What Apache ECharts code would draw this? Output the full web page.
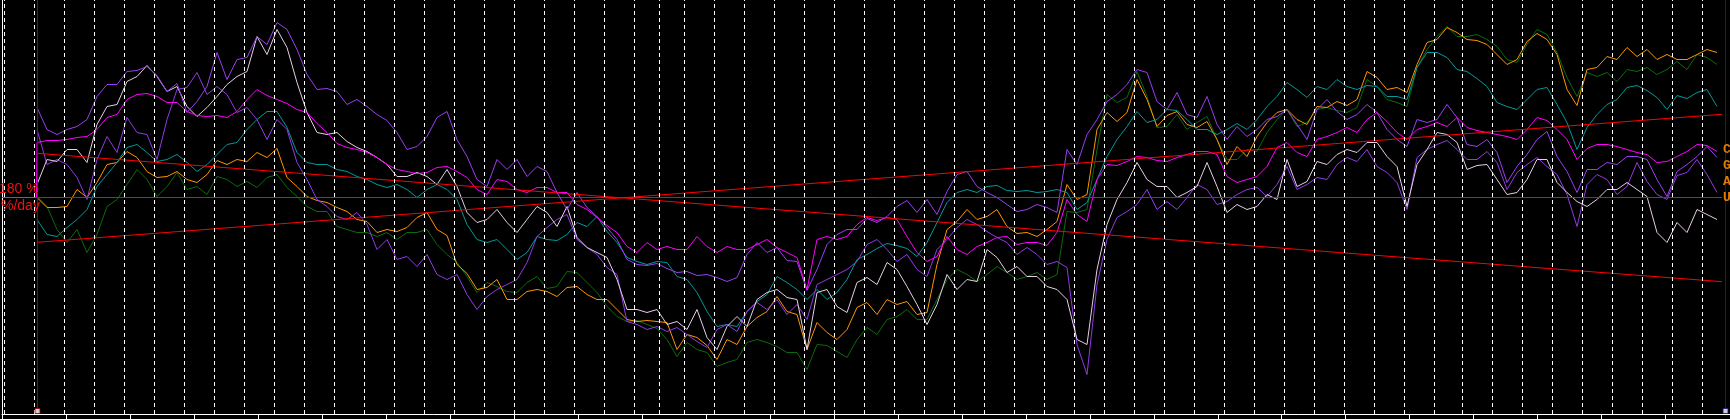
<!DOCTYPE html>
<html><head><meta charset="utf-8">
<script src="https://cdn.jsdelivr.net/npm/echarts@6/dist/echarts.min.js"></script>
<style>html,body{margin:0;padding:0;background:#000;overflow:hidden}#c{width:1730px;height:419px}</style>
</head><body><div id="c"></div>
<script>
// x unit: sample index (one sample per step), series start at startT
const startT = 3.5;
const white = [13,38,36,48,48,35,73,91,93,116,121,132,121,106,111,91,81,90,101,113,121,126,161,143,168,150,115,85,65,63,65,56,50,46,40,33,21,21,25,21,13,
28,11,-15,-25,-22,-12,-25,-35,-22,-9,-15,-29,-9,-40,-50,-55,-60,-82,-112,-112,-115,-112,-127,-124,-132,-112,-140,-152,-129,-119,-129,-102,-95,-92,-100,-102,-152,-95,-92,-109,-115,-85,
-80,-87,-65,-72,-89,-107,-127,-107,-77,-92,-82,-84,-52,-60,-75,-69,-79,-79,-89,-92,-102,-142,-147,-72,-27,-2,15,35,18,11,11,0,5,11,35,11,-15,-7,-12,-9,3,-2,38,
11,16,36,33,43,48,45,55,55,41,31,-9,33,48,65,63,55,28,32,33,18,3,5,18,38,38,15,5,-4,-9,-2,8,8,15,8,1,-35,-45,-25,-35,-12,-17,-22];
const magenta = [55,57,57,58,60,61,68,80,83,98,103,104,101,95,95,86,82,81,82,80,86,98,108,102,98,94,88,85,74,65,54,50,48,45,40,33,28,26,24,25,30,
31,26,20,8,3,18,16,8,5,10,10,5,5,-7,-12,-20,-28,-35,-49,-55,-45,-52,-49,-52,-52,-39,-49,-55,-49,-52,-52,-47,-42,-50,-55,-60,-92,-42,-39,-42,-39,-27,
-20,-23,-20,-22,-39,-55,-64,-59,-39,-52,-57,-49,-45,-40,-39,-47,-45,-45,-48,-35,-2,-17,-24,18,33,32,36,41,40,37,36,40,43,46,46,43,21,15,18,21,31,50,55,
45,41,58,61,65,70,65,78,85,76,65,58,68,71,75,71,80,70,67,65,63,61,58,68,80,77,68,58,38,49,53,53,51,48,45,43,35,36,41,46,53,52,46];
const orange = [0,-10,-10,-9,8,0,15,33,35,46,40,26,20,21,26,18,15,23,37,33,38,36,45,40,49,20,11,1,-3,-5,-10,-14,-22,-24,-35,-32,-34,-30,-20,-15,-32,
-38,-67,-76,-92,-90,-82,-102,-102,-94,-92,-94,-99,-90,-89,-97,-102,-102,-112,-122,-124,-123,-124,-125,-152,-137,-140,-148,-162,-142,-147,-129,-120,-114,-99,-114,-117,-152,-125,-135,-142,-132,-110,
-105,-117,-102,-107,-104,-117,-115,-67,-32,-24,-12,-22,-19,-12,-29,-36,-35,-39,-32,-24,13,-2,3,68,85,76,85,118,98,71,82,86,73,70,76,58,33,51,41,61,75,85,88,
78,73,91,90,96,92,98,126,120,108,110,105,133,155,158,170,165,158,157,153,143,133,138,156,164,158,143,108,92,128,130,141,138,150,141,148,138,143,138,138,143,148,145];
const green = [1,-9,-32,-45,-32,-55,-37,-9,-2,13,28,18,1,11,25,8,11,3,21,18,11,16,10,20,23,10,1,-9,-14,-14,-29,-32,-35,-35,-39,-35,-42,-35,-35,-32,-47,
-57,-65,-79,-95,-85,-89,-94,-95,-85,-79,-91,-89,-74,-75,-85,-95,-109,-119,-124,-123,-127,-131,-142,-159,-145,-152,-155,-169,-165,-162,-145,-142,-145,-149,-155,-155,-172,-147,-148,-154,-160,-142,
-130,-137,-122,-119,-112,-122,-122,-102,-82,-72,-77,-84,-77,-69,-75,-82,-79,-75,-82,-77,-14,-15,-12,48,103,95,100,126,101,70,71,83,68,75,81,58,38,38,48,46,65,78,88,
71,75,88,90,87,85,90,118,111,98,95,91,130,148,161,171,161,161,163,158,151,138,135,153,168,163,145,120,101,125,121,125,116,128,126,130,123,128,136,128,143,140,133];
const teal = [-22,-37,-39,-30,-22,-12,11,23,35,50,53,45,36,38,43,35,26,33,43,53,55,68,78,86,86,70,45,35,33,33,28,26,21,18,13,10,13,8,0,8,13,
8,-2,-27,-42,-45,-42,-52,-62,-55,-39,-42,-43,-37,-25,-29,-19,-34,-45,-60,-64,-67,-64,-65,-79,-82,-95,-114,-129,-127,-129,-114,-104,-97,-79,-85,-92,-102,-92,-102,-95,-82,-62,
-57,-51,-46,-48,-51,-59,-45,-25,-5,5,8,5,11,12,7,6,7,5,6,8,5,-12,-5,18,41,58,71,86,75,78,88,87,78,68,68,63,68,74,68,78,91,101,115,
108,100,111,108,118,111,108,112,111,101,101,98,130,145,145,140,128,126,119,111,95,91,88,98,108,110,93,75,48,70,83,93,98,110,112,107,100,88,102,99,105,108,91];
const violetA = [90,68,63,68,71,78,101,113,113,126,127,131,122,106,114,85,96,111,145,118,138,140,161,153,175,168,148,123,108,109,106,93,98,91,83,77,65,48,51,61,80,
86,58,41,18,11,38,28,38,21,31,26,5,-12,5,-10,-19,-30,-42,-62,-67,-68,-66,-71,-75,-74,-78,-77,-80,-84,-80,-57,-45,-55,-50,-63,-64,-93,-72,-47,-37,-32,-32,
-21,-25,-19,-9,-3,-15,-2,-17,6,23,26,11,5,0,-7,-14,-12,-7,-10,-15,48,33,63,78,96,103,113,128,125,96,88,105,83,80,101,73,58,71,61,68,78,81,88,
73,58,88,98,86,78,83,93,85,68,58,51,78,75,78,93,80,53,51,58,45,15,31,43,58,66,41,26,5,28,28,35,33,41,41,38,18,1,26,33,41,51,40];
const violetB = [68,33,38,33,20,-2,38,61,45,80,65,63,38,78,108,110,125,103,111,103,85,90,78,58,78,68,35,18,-2,-9,-19,-22,-15,-27,-52,-42,-62,-59,-69,-57,-77,
-82,-77,-97,-112,-99,-92,-87,-82,-65,-39,-30,-22,-17,-42,-50,-57,-70,-77,-124,-127,-132,-129,-134,-130,-137,-144,-150,-132,-127,-134,-114,-105,-112,-102,-117,-107,-122,-87,-82,-77,-72,-64,
-47,-42,-52,-64,-57,-72,-79,-52,-42,-30,-22,-27,-34,-40,-45,-57,-50,-57,-67,-64,-70,-147,-177,-87,-42,-20,-14,-7,8,-12,-4,-12,0,13,8,-7,-4,3,8,10,1,13,31,
8,13,20,18,33,40,36,48,31,25,15,-12,40,48,53,57,48,38,38,46,35,8,25,33,40,31,23,3,-29,13,23,18,3,11,35,16,3,-2,22,25,38,23,5];
const magentaLead = [[0, 0], [3.45, 0]];
const baseLevel = [[3.5, 0], [172, 0]];
const trendDown = [[3.5, 44.2], [172, -84.2]];
const trendUp = [[3.5, -44.8], [172, 83.2]];
const weekLines = [0.25,3.25,6.25,9.25,12.25,15.25,18.25,21.25,24.25,27.25,30.25,33.25,36.25,39.25,42.25,45.25,48.25,51.25,54.25,57.25,60.25,63.25,
65.75,68.25,
71.25,74.25,77.25,80.25,83.25,86.25,89.25,92.25,95.25,98.25,101.25,104.25,107.25,110.25,113.25,116.25,119.25,122.25,125.25,128.25,131.25,134.25,137.25,140.25,143.25,
146.05,149.05,152.05,155.05,158.05,161.05,164.05,167.05,170.05];
const cursorLines = [3.55, 172.35];
const axisTicks = [0.07,6.465,12.86,19.255,25.65,32.045,38.44,44.835,51.23,57.625,64.02,70.415,76.81,83.205,89.6,95.995,102.39,108.785,115.18,121.575,127.97,134.365,140.76,147.155,153.55,159.945,166.34];
const leftLabels = ['180 %', '%/day'];
const rightLabels = ['C', 'G', 'A', 'U'];

const pairs = arr => arr.map((v, i) => [startT + i, v]);
const lineSeries = (name, data, color, z) => ({
  name, type: 'line', data, symbol: 'none', showSymbol: false, z,
  lineStyle: { color, width: 1 }, itemStyle: { color }, silent: true, animation: false
});

const chart = echarts.init(document.getElementById('c'), null, { renderer: 'canvas', width: 1730, height: 419 });
chart.setOption({
  animation: false,
  backgroundColor: '#000',
  grid: { left: 2, right: 0, top: 0, bottom: 5 },
  xAxis: {
    type: 'value', min: 0, max: 172.8,
    axisLine: { show: true, onZero: false, lineStyle: { color: '#fff', width: 1 } },
    axisTick: { show: true, length: 5, inside: false, lineStyle: { color: '#fff', width: 1 }, customValues: axisTicks },
    axisLabel: { show: false }, splitLine: { show: false }
  },
  yAxis: {
    type: 'value', min: -216.5, max: 197.5,
    axisLine: { show: true, onZero: false, lineStyle: { color: '#fff', width: 1 } },
    axisTick: { show: false }, axisLabel: { show: false }, splitLine: { show: false }
  },
  series: [
    {
      type: 'line', data: [], z: 1, silent: true,
      markLine: {
        silent: true, animation: false, symbol: ['none', 'none'], label: { show: false },
        lineStyle: { color: '#ffffff', type: [4, 3], width: 1 },
        data: weekLines.map(t => ({ xAxis: t }))
      }
    },
    lineSeries('green', pairs(green), '#0c6a0c', 2),
    lineSeries('orange', pairs(orange), '#ff9500', 2),
    lineSeries('teal', pairs(teal), '#009a9a', 2),
    lineSeries('violetB', pairs(violetB), '#9339e6', 2),
    lineSeries('white', pairs(white), '#e6cfe6', 2),
    lineSeries('violetA', pairs(violetA), '#9a3ff0', 2),
    lineSeries('magenta', magentaLead.concat(pairs(magenta)), '#ff00ff', 2),
    lineSeries('level', baseLevel, '#ff0000', 3),
    lineSeries('trendDown', trendDown, '#ff0000', 3),
    lineSeries('trendUp', trendUp, '#ff0000', 3),
    {
      type: 'line', data: [], z: 4, silent: true,
      markLine: {
        silent: true, animation: false, symbol: ['none', 'none'], label: { show: false },
        data: [
          { xAxis: cursorLines[0], lineStyle: { color: '#a00000', type: 'solid', width: 1 } },
          { xAxis: cursorLines[1], lineStyle: { color: '#12129a', type: 'solid', width: 1 } }
        ]
      }
    },
    {
      type: 'scatter', z: 5, silent: true, symbol: 'rect', symbolSize: 5,
      data: [
        { value: [cursorLines[0], -213.5], itemStyle: { color: '#ffffff', borderColor: '#a00000', borderWidth: 1 } },
        { value: [cursorLines[1], -213.5], itemStyle: { color: '#ffffff', borderColor: '#12129a', borderWidth: 1 } }
      ]
    }
  ],
  graphic: [
    { type: 'text', x: -1, y: 182, z: 100, style: { text: leftLabels[0], fill: '#e81414', font: '14px "Liberation Sans", Arial, sans-serif', verticalAlign: 'top' } },
    { type: 'text', x: 1, y: 199, z: 100, style: { text: leftLabels[1], fill: '#e81414', font: '14px "Liberation Sans", Arial, sans-serif', verticalAlign: 'top' } }
  ].concat(rightLabels.map((s, k) => ({
    type: 'text', x: 1723, y: 143 + 16 * k, z: 100,
    style: { text: s, fill: '#e07a00', font: 'bold 13px "Liberation Mono", monospace', verticalAlign: 'top' }
  })))
});
</script>
</body></html>
